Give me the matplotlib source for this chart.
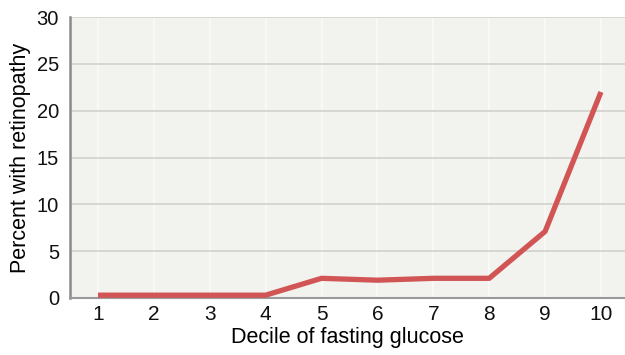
import matplotlib
matplotlib.use("Agg")
import matplotlib.pyplot as plt

deciles = [1, 2, 3, 4, 5, 6, 7, 8, 9, 10]
percent = [0.3, 0.3, 0.3, 0.3, 2.1, 1.9, 2.1, 2.1, 7.1, 22.0]
yticks = [0, 5, 10, 15, 20, 25, 30]

plt.rcParams['font.family'] = ['Liberation Sans', 'DejaVu Sans']

fig = plt.figure(figsize=(6.25, 3.55), dpi=100)
ax = fig.add_axes([0.112, 0.1606, 0.888, 0.7914])
ax.set_facecolor('#f2f2ee')
ax.plot(deciles, percent, color='#d25555', lw=3.8, solid_capstyle='butt', zorder=3)
ax.set_xlim(0.5, 10.43)
ax.set_ylim(0, 30)
ax.set_xticks(deciles)
ax.set_yticks(yticks)
ax.tick_params(axis='x', length=0, labelsize=15, pad=5, colors='#111111')
ax.tick_params(axis='y', length=0, labelsize=14.5, pad=8, colors='#111111')
ax.grid(axis='y', color='#d2d2cc', lw=1.2)
ax.grid(axis='x', color='#fafaf8', lw=1.2)
ax.set_axisbelow(True)
for s in ['top', 'right']:
    ax.spines[s].set_visible(False)
ax.spines['left'].set_color('#8a8a8a')
ax.spines['left'].set_linewidth(1.8)
ax.spines['bottom'].set_color('#9a9a9a')
ax.spines['bottom'].set_linewidth(1.5)
ax.set_xlabel('Decile of fasting glucose', fontsize=15.5, labelpad=2)
ax.set_ylabel('Percent with retinopathy', fontsize=15.5, labelpad=4)
fig.savefig('out.png', dpi=100)
